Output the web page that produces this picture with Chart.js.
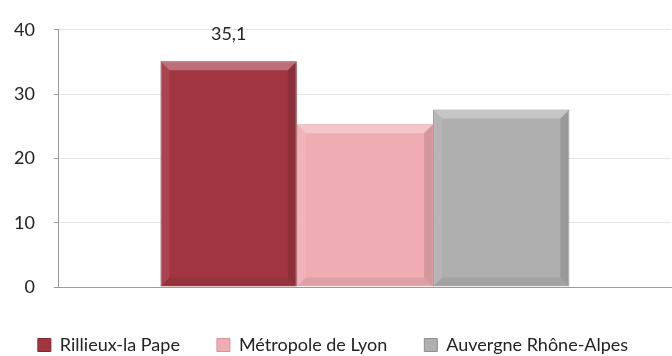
<!DOCTYPE html>
<html>
<head>
<meta charset="utf-8">
<script src="https://cdn.jsdelivr.net/npm/chart.js@4"></script>
<style>
  html, body { margin: 0; padding: 0; background: #fff; overflow: hidden; }
  /* the reference is cut off just under the legend */
  #wrap { width: 672px; height: 364px; }
</style>
</head>
<body>
<div id="wrap"><canvas id="chart"></canvas></div>
<script>
// values
const categories = [''];
const seriesNames = ['Rillieux-la Pape', 'Métropole de Lyon', 'Auvergne Rhône-Alpes'];
const seriesValues = [35.1, 25.3, 27.6];
const seriesColors = ['#A13641', '#EFADB3', '#AFAFAF'];
const seriesBorders = ['#7E2630', '#D8949B', '#8E8E8E'];
const labelled = [true, false, false];
const yTicks = [0, 10, 20, 30, 40];

const FONT = 'Lato, "Open Sans", sans-serif';

// bevelled look of the bars, drawn over the library's bar rectangles
const bevel = {
    id: 'bevel',
    afterDatasetsDraw(chart) {
        const ctx = chart.ctx;
        const b = 8;
        ctx.save();
        chart.data.datasets.forEach((ds, i) => {
            const bar = chart.getDatasetMeta(i).data[0];
            const l = bar.x - bar.width / 2 + 1, r = bar.x + bar.width / 2 - 1;
            const t = bar.y + 1, btm = bar.base - 1;
            const faces = [
                [[l, t], [r, t], [r - b, t + b], [l + b, t + b], 'rgba(255,255,255,0.28)'],
                [[l, t], [l + b, t + b], [l + b, btm - b], [l, btm], 'rgba(255,255,255,0.08)'],
                [[r, t], [r, btm], [r - b, btm - b], [r - b, t + b], 'rgba(0,0,0,0.12)'],
                [[l, btm], [l + b, btm - b], [r - b, btm - b], [r, btm], 'rgba(0,0,0,0.07)']
            ];
            faces.forEach(f => {
                ctx.beginPath();
                ctx.moveTo(f[0][0], f[0][1]);
                for (let k = 1; k < 4; k++) ctx.lineTo(f[k][0], f[k][1]);
                ctx.closePath();
                ctx.fillStyle = f[4];
                ctx.fill();
            });
        });
        ctx.restore();
    }
};

// value label above the bar, written with a comma
const valueLabels = {
    id: 'valueLabels',
    afterDatasetsDraw(chart) {
        const ctx = chart.ctx;
        ctx.save();
        ctx.font = '18px ' + FONT;
        ctx.fillStyle = '#222';
        ctx.textAlign = 'center';
        ctx.textBaseline = 'alphabetic';
        chart.data.datasets.forEach((ds, i) => {
            if (!labelled[i]) return;
            const bar = chart.getDatasetMeta(i).data[0];
            ctx.fillText(String(ds.data[0]).replace('.', ','), bar.x, bar.y - 21);
        });
        ctx.restore();
    }
};

new Chart(document.getElementById('chart'), {
    type: 'bar',
    data: {
        labels: categories,
        datasets: seriesNames.map((name, i) => ({
            label: name,
            data: [seriesValues[i]],
            backgroundColor: seriesColors[i],
            borderColor: seriesBorders[i],
            borderWidth: 1,
            categoryPercentage: 0.668,
            barPercentage: 1
        }))
    },
    options: {
        responsive: true,
        maintainAspectRatio: false,
        animation: false,
        layout: { padding: { left: -5, right: 1, top: 26, bottom: 0 } },
        plugins: {
            tooltip: { enabled: false },
            legend: {
                position: 'bottom',
                labels: {
                    font: { size: 18, family: FONT },
                    color: '#222',
                    boxWidth: 13,
                    boxHeight: 13,
                    padding: 37
                }
            }
        },
        scales: {
            x: {
                ticks: { display: false },
                grid: { display: false },
                border: { color: '#9a9a9a' },
                afterFit: axis => { axis.height = 12; }
            },
            y: {
                min: 0,
                max: 40,
                afterBuildTicks: axis => { axis.ticks = yTicks.map(v => ({ value: v })); },
                ticks: {
                    font: { size: 18, family: FONT },
                    color: '#222',
                    padding: 19
                },
                grid: { color: '#e6e6e6', tickLength: 5, tickColor: '#9a9a9a' },
                border: { color: '#9a9a9a' }
            }
        }
    },
    plugins: [bevel, valueLabels]
});
</script>
</body>
</html>
